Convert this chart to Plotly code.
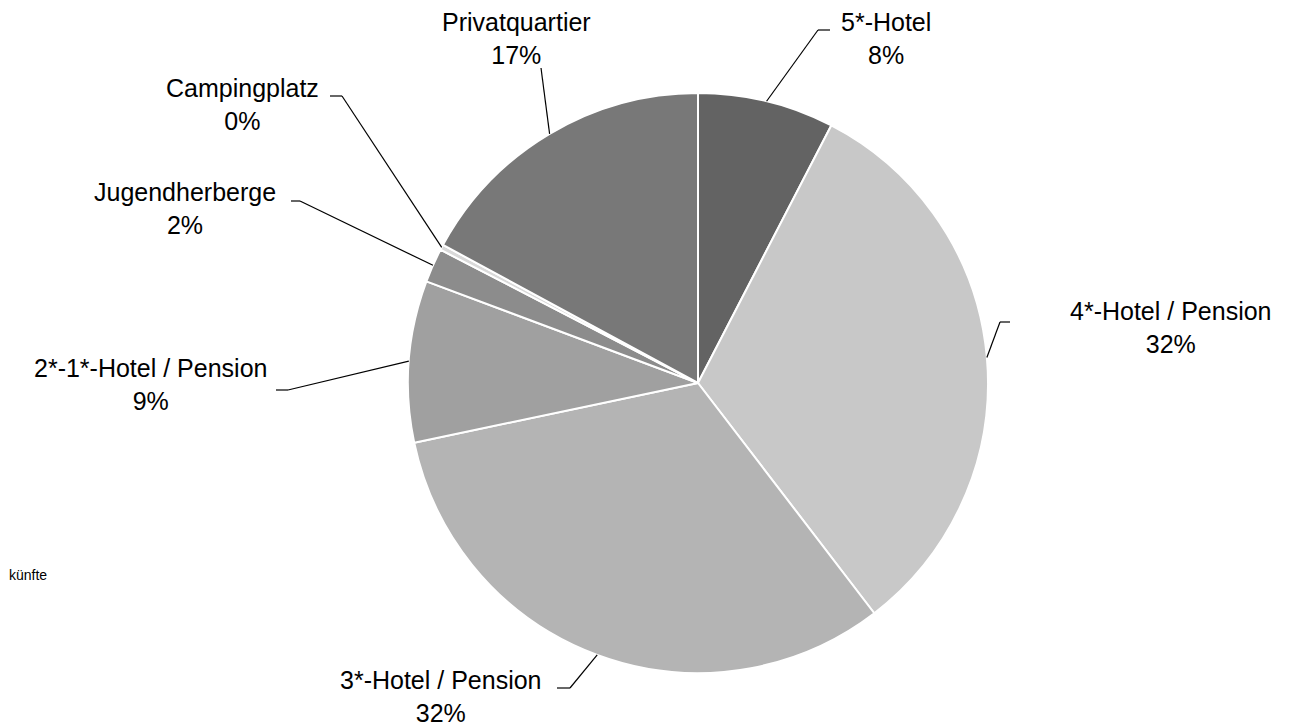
import math
import plotly.graph_objects as go

# ---- data ----
categories = ["5*-Hotel", "4*-Hotel / Pension", "3*-Hotel / Pension",
              "2*-1*-Hotel / Pension", "Jugendherberge", "Campingplatz", "Privatquartier"]
shares = [7.6, 32.0, 32.1, 9.0, 1.9, 0.3, 17.1]

# ---- style / layout ----
colors = ["#636363", "#c8c8c8", "#b4b4b4", "#a0a0a0", "#8c8c8c", "#d9d9d9", "#787878"]
OFF = 8                          # page body margin
W, H = 1305 - OFF, 728 - OFF     # figure size
CX, CY, R = 698, 383, 290        # pie centre / radius in page pixels
FONT = "Liberation Sans, Arial, sans-serif"
FS = 25
# label block centres (page px) and leader elbow / end points (page px)
label_pos = [(886, 39), (1171, 327), (441, 696), (150, 384), (185, 208), (242, 105), (516, 39)]
elbows = [(818, 30), (1000, 322), (570, 688), (288, 390), (300, 201), (342, 96), (541, 68)]
ends = [(830, 30), (1010, 322), (557, 688), (276, 390), (291, 201), (330, 96), None]


def px(x):
    return (x - OFF) / W


def py(y):
    return 1 - (y - OFF) / H


fig = go.Figure(go.Pie(
    labels=categories,
    values=shares,
    sort=False,
    direction="clockwise",
    rotation=0,
    textinfo="none",
    hoverinfo="label+percent",
    marker=dict(colors=colors, line=dict(color="white", width=2)),
    domain=dict(x=[px(CX - R), px(CX + R)], y=[py(CY + R), py(CY - R)]),
    showlegend=False,
))

total = sum(shares)
shapes = []
annotations = []
cum = 0.0
for i, (cat, v) in enumerate(zip(categories, shares)):
    mid = (cum + v / 2) / total * 2 * math.pi
    cum += v
    ex = CX + R * math.sin(mid)
    ey = CY - R * math.cos(mid)
    bx, by = elbows[i]
    shapes.append(dict(type="line", xref="paper", yref="paper",
                       x0=px(ex), y0=py(ey), x1=px(bx), y1=py(by),
                       line=dict(color="black", width=1.2)))
    if ends[i] is not None:
        qx, qy = ends[i]
        shapes.append(dict(type="line", xref="paper", yref="paper",
                           x0=px(bx), y0=py(by), x1=px(qx), y1=py(qy),
                           line=dict(color="black", width=1.2)))
    pct = round(100 * v / total)
    lx, ly = label_pos[i]
    annotations.append(dict(xref="paper", yref="paper", x=px(lx), y=py(ly),
                            text=f"{cat}<br>{pct}%", showarrow=False, borderpad=0,
                            xanchor="center", yanchor="middle", align="center",
                            font=dict(family=FONT, size=FS, color="black")))

annotations.append(dict(xref="paper", yref="paper", x=px(OFF), y=py(575),
                        text="künfte", showarrow=False, xanchor="left", yanchor="middle",
                        borderpad=0, font=dict(family=FONT, size=14, color="black")))

fig.update_layout(
    width=W, height=H,
    margin=dict(l=0, r=0, t=0, b=0),
    paper_bgcolor="white", plot_bgcolor="white",
    shapes=shapes, annotations=annotations,
)

fig.write_html("out.html")
